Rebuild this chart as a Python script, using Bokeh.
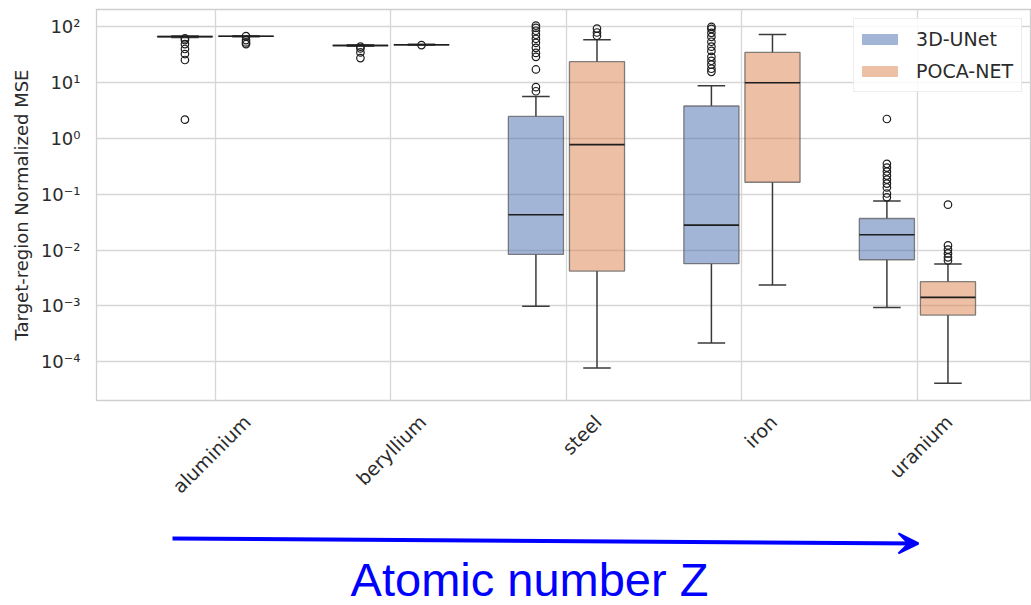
import numpy as np
from bokeh.plotting import figure
from bokeh.models import (Range1d, FixedTicker, Legend, LegendItem, Arrow, VeeHead,
                          Label, CustomJSTickFormatter)
from bokeh.layouts import column
from bokeh.embed import file_html
from bokeh.resources import INLINE

# ---------------- data ----------------
materials = ["aluminium", "beryllium", "steel", "iron", "uranium"]
series_names = ["3D-UNet", "POCA-NET"]

# 3D-UNet box statistics
unet_low = [64.5, 45.0, 0.00098, 0.000216, 0.00093]
unet_q1 = [65.8, 45.8, 0.00834, 0.00569, 0.0067]
unet_med = [66.8, 46.3, 0.0428, 0.0279, 0.0188]
unet_q3 = [67.6, 46.8, 2.48, 3.81, 0.0367]
unet_high = [68.5, 47.5, 5.66, 8.8, 0.076]
unet_outliers = [
    [62, 57.8, 49, 40, 32.5, 25.4, 2.17],
    [44, 41, 34.7, 27.5],
    [105, 96, 85, 72, 61, 51.7, 42, 34, 29, 17.2, 8.3, 7.0],
    [100, 92, 78, 66, 54, 44, 37, 29, 24.6, 21, 17.7, 15.6],
    [2.23, 0.35, 0.30, 0.255, 0.216, 0.183, 0.155, 0.132, 0.103, 0.088],
]

# POCA-NET box statistics
poca_low = [66.5, 46.5, 7.7e-5, 0.00236, 4.1e-5]
poca_q1 = [67.2, 47.2, 0.0042, 0.164, 0.000684]
poca_med = [67.7, 47.6, 0.774, 9.95, 0.00142]
poca_q3 = [68.2, 48.0, 23.7, 34.7, 0.00271]
poca_high = [69.0, 48.6, 58.5, 72.8, 0.0056]
poca_outliers = [
    [68, 57.8, 52.5, 49],
    [47],
    [93, 79, 69],
    [],
    [0.065, 0.0121, 0.0102, 0.0087, 0.0074, 0.0065],
]

y_tick_values = [1e-4, 1e-3, 1e-2, 1e-1, 1e0, 1e1, 1e2]
y_tick_labels = ["10\u207b\u2074", "10\u207b\u00b3", "10\u207b\u00b2", "10\u207b\u00b9",
                 "10\u2070", "10\u00b9", "10\u00b2"]

# ---------------- styling ----------------
colors = ["#4C72B0", "#DD8452"]
box_alpha = 0.52
box_w = 0.314
dodge = 0.174
label_shift = 0.18
text_col = "#2b2b2b"
grid_col = "#d6d6d6"
FRAME_LEFT = 96
W = 1031

p = figure(width=W, height=522, y_axis_type="log",
           x_range=Range1d(-0.678, 4.65),
           y_range=Range1d(10 ** -4.696, 10 ** 2.31),
           output_backend="svg", toolbar_location=None,
           min_border_left=FRAME_LEFT, min_border_right=0, min_border_top=9,
           min_border_bottom=122)
p.background_fill_color = "white"
p.border_fill_color = "white"
p.outline_line_color = "#cfcfcf"
p.outline_line_width = 1.3

idx = np.arange(len(materials))
stats = [
    (unet_low, unet_q1, unet_med, unet_q3, unet_high, unet_outliers),
    (poca_low, poca_q1, poca_med, poca_q3, poca_high, poca_outliers),
]
legend_renderers = []
for s, (lo, q1, med, q3, hi, outl) in enumerate(stats):
    xc = idx + (-dodge if s == 0 else dodge)
    lo = np.array(lo); q1 = np.array(q1); med = np.array(med)
    q3 = np.array(q3); hi = np.array(hi)
    # whiskers
    p.segment(x0=xc, y0=q3, x1=xc, y1=hi, line_color="#3a3a3a", line_width=1.5)
    p.segment(x0=xc, y0=q1, x1=xc, y1=lo, line_color="#3a3a3a", line_width=1.5)
    p.segment(x0=xc - box_w / 4, y0=hi, x1=xc + box_w / 4, y1=hi,
              line_color="#3a3a3a", line_width=1.5)
    p.segment(x0=xc - box_w / 4, y0=lo, x1=xc + box_w / 4, y1=lo,
              line_color="#3a3a3a", line_width=1.5)
    # boxes
    p.quad(left=xc - box_w / 2, right=xc + box_w / 2, bottom=q1, top=q3,
           fill_color=colors[s], fill_alpha=box_alpha,
           line_color="#5a5a5a", line_alpha=0.75, line_width=1.3)
    # medians
    p.segment(x0=xc - box_w / 2, y0=med, x1=xc + box_w / 2, y1=med,
              line_color="#1e1e1e", line_width=1.6)
    # outliers
    ox, oy = [], []
    for i, vals in enumerate(outl):
        ox += [xc[i]] * len(vals)
        oy += list(vals)
    p.scatter(x=ox, y=oy, marker="circle", size=7.5, fill_color=None,
              line_color="#1e1e1e", line_width=1.2)
    lr = p.line(x=[np.nan, np.nan], y=[np.nan, np.nan], line_color=colors[s],
                line_alpha=box_alpha, line_width=11, line_cap="round",
                line_join="round")
    legend_renderers.append(lr)

legend = Legend(items=[LegendItem(label=series_names[k], renderers=[legend_renderers[k]])
                       for k in range(2)],
                location="top_right", margin=9, padding=8, spacing=8,
                glyph_width=36, glyph_height=24, label_height=24,
                label_standoff=18,
                label_text_font="DejaVu Sans", label_text_font_size="19px",
                label_text_color=text_col,
                border_line_color="#dcdcdc", border_line_width=1.2,
                background_fill_color="white", background_fill_alpha=0.85)
p.add_layout(legend)

# grids
p.xgrid.ticker = FixedTicker(ticks=list(idx))
p.ygrid.ticker = FixedTicker(ticks=y_tick_values)
p.grid.grid_line_color = grid_col
p.grid.grid_line_width = 1.3
p.ygrid.minor_grid_line_color = None

# x axis (labels rotated, shifted so they centre on the categories)
p.xaxis.ticker = FixedTicker(ticks=list(idx + label_shift))
p.xaxis.formatter = CustomJSTickFormatter(
    args=dict(labels=materials, shift=label_shift),
    code="return labels[Math.round(tick - shift)];")
p.xaxis.major_label_orientation = np.pi / 4
p.xaxis.major_label_standoff = 12
p.xaxis.major_label_text_font = "DejaVu Sans"
p.xaxis.major_label_text_font_size = "19px"
p.xaxis.major_label_text_color = text_col

# y axis
p.yaxis.ticker = FixedTicker(ticks=y_tick_values)
p.yaxis.formatter = CustomJSTickFormatter(
    args=dict(vals=y_tick_values, labels=y_tick_labels),
    code="""
    for (let i = 0; i < vals.length; i++) {
        if (Math.abs(Math.log10(vals[i]) - Math.log10(tick)) < 1e-6) return labels[i];
    }
    return "";
    """)
p.yaxis.axis_label = "Target-region Normalized MSE"
p.yaxis.axis_label_text_font = "DejaVu Sans"
p.yaxis.axis_label_text_font_size = "18px"
p.yaxis.axis_label_text_font_style = "normal"
p.yaxis.axis_label_text_color = text_col
p.yaxis.axis_label_standoff = 6
p.yaxis.major_label_standoff = 10
p.yaxis.major_label_text_font = "DejaVu Sans"
p.yaxis.major_label_text_font_size = "18px"
p.yaxis.major_label_text_color = text_col

for ax in (p.xaxis, p.yaxis):
    ax.axis_line_color = None
    ax.major_tick_line_color = None
    ax.minor_tick_line_color = None

# ---------------- annotation strip: atomic-number arrow ----------------
# frame is aligned with the chart frame above (left edge at FRAME_LEFT),
# so the x range is chosen so that data units equal page pixels
q = figure(width=W, height=83, x_range=Range1d(FRAME_LEFT, W), y_range=Range1d(83, 0),
           output_backend="svg", toolbar_location=None,
           x_axis_location=None, y_axis_location=None,
           min_border=0, min_border_left=FRAME_LEFT, min_border_right=0,
           min_border_top=0, min_border_bottom=0)
q.outline_line_color = None
q.grid.visible = False
q.background_fill_color = "white"
q.border_fill_color = "white"
q.add_layout(Arrow(x_start=172, y_start=16, x_end=918, y_end=21,
                   line_color="#0000ff", line_width=4,
                   end=VeeHead(size=20, fill_color="#0000ff", line_color="#0000ff",
                               line_width=2)))
q.add_layout(Label(x=529, y=57, text="Atomic number Z", text_align="center",
                   text_baseline="middle", text_font="Liberation Sans",
                   text_font_size="47px", text_color="#0000ff"))

layout = column(p, q, spacing=0)
open("out.html", "w").write(file_html(layout, INLINE))
